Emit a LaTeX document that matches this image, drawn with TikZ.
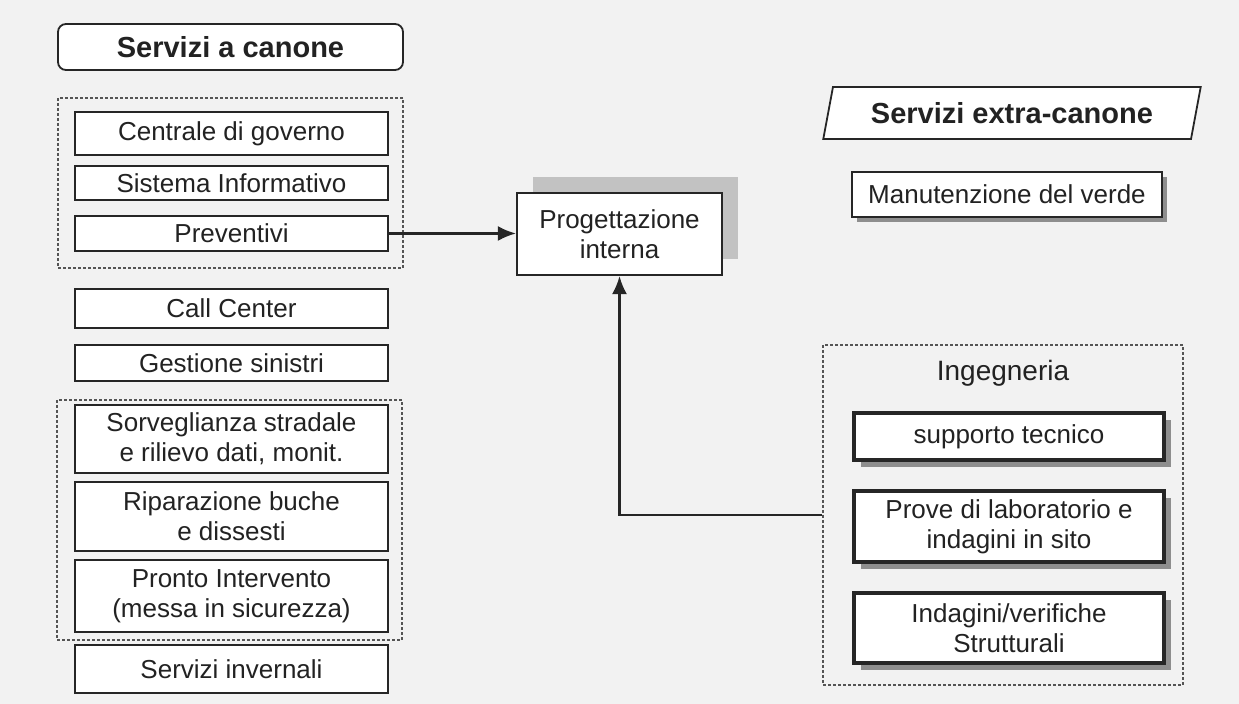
\documentclass[tikz,border=0pt]{standalone}
\usepackage{fontspec}
\setmainfont{Liberation Sans}
\usetikzlibrary{arrows.meta,shapes.geometric,shadows}
\definecolor{pagegrey}{HTML}{F2F2F2}
\definecolor{linegrey}{HTML}{262626}
\definecolor{zonegrey}{HTML}{555555}
\definecolor{textgrey}{HTML}{222222}
\definecolor{shadegrey}{HTML}{C2C2C2}
\definecolor{darkshade}{HTML}{8E8E8E}
\tikzset{
  box/.style={
    draw=linegrey, fill=white, align=center, inner sep=2pt,
    line width=0.9pt, text=textgrey, font=\fontsize{13}{15}\selectfont,
  },
  svc/.style   ={box, minimum width=156.5pt},
  extra/.style ={box, minimum width=155pt, line width=1.1pt,
                 drop shadow={shadow xshift=2.5pt, shadow yshift=-2.5pt,
                              fill=darkshade, opacity=1}},
  eng/.style   ={box, minimum width=155pt, line width=1.6pt,
                 drop shadow={shadow xshift=3.5pt, shadow yshift=-3.5pt,
                              fill=darkshade, opacity=1}},
  head/.style  ={box, font=\fontsize{14.5}{17}\selectfont\bfseries},
  zone/.style  ={draw=zonegrey, dash pattern=on 1.5pt off 1pt, line width=0.6pt},
  flow/.style  ={-{Latex[length=9pt,width=7.5pt]}, draw=linegrey, line width=1.1pt},
}

\begin{document}
\begin{tikzpicture}[x=0.5pt, y=-0.5pt]

\fill[pagegrey] (0,0) rectangle (1239,704);
\useasboundingbox (0,0) rectangle (1239,704);

% ============================================ servizi a canone
\node[head, rounded corners=4pt, minimum width=172.5pt, minimum height=23pt]
  (canone) at (230.5,47) {Servizi a canone};

\node[zone, minimum width=172.5pt, minimum height=85pt] (zoneA) at (230.5,183) {};
\node[svc, minimum height=21.5pt] (centrale) at (231.5,133.5) {Centrale di governo};
\node[svc, minimum height=17pt]   (sistema)  at (231.5,183)   {Sistema Informativo};
\node[svc, minimum height=17.5pt] (prev)     at (231.5,233.5) {Preventivi};

\node[svc, minimum height=19.5pt] (call)     at (231.5,308.5) {Call Center};
\node[svc, minimum height=18pt]   (sinistri) at (231.5,363)   {Gestione sinistri};

\node[zone, minimum width=172.5pt, minimum height=120pt] (zoneB) at (229.5,520) {};
\node[svc, minimum height=34pt]   (sorv)     at (231.5,439)
  {Sorveglianza stradale\\e rilievo dati, monit.};
\node[svc, minimum height=34.5pt] (ripar)    at (231.5,516.5)
  {Riparazione buche\\e dissesti};
\node[svc, minimum height=36pt]   (pronto)   at (231.5,596)
  {Pronto Intervento\\(messa in sicurezza)};

\node[svc, minimum height=24pt]   (inverno)  at (231.5,669) {Servizi invernali};

% ============================================ progettazione interna
\node[box, line width=1.1pt, minimum width=102.5pt, minimum height=41pt,
      drop shadow={shadow xshift=8pt, shadow yshift=8pt, fill=shadegrey, opacity=1}]
  (prog) at (619.5,234) {Progettazione\\interna};

% ============================================ servizi extra-canone
\node[head, trapezium, trapezium left angle=75, trapezium right angle=105,
      trapezium stretches=true, minimum width=189pt, minimum height=26pt]
  (extracan) at (1012,113) {Servizi extra-canone};

\node[extra, minimum height=22.5pt] (verde) at (1007,194.5) {Manutenzione del verde};

% the engineering group, label on top
\node[zone, minimum width=180pt, minimum height=170pt] (ing) at (1003,515) {};
\node[text=textgrey, font=\fontsize{14}{16}\selectfont] (inglbl) at (1003,373) {Ingegneria};
\node[eng, minimum height=23.5pt] (supp)  at (1009,436.5) {supporto tecnico};
\node[eng, minimum height=35.5pt] (prove) at (1009,526.5)
  {Prove di laboratorio e\\indagini in sito};
\node[eng, minimum height=35pt]   (indag) at (1009,628)
  {Indagini/verifiche\\Strutturali};

% ============================================ connectors
\draw[flow] (prev.east) -- (prog.west |- prev.east);
\draw[flow] (ing.west) -| (prog.south);

\end{tikzpicture}
\end{document}
